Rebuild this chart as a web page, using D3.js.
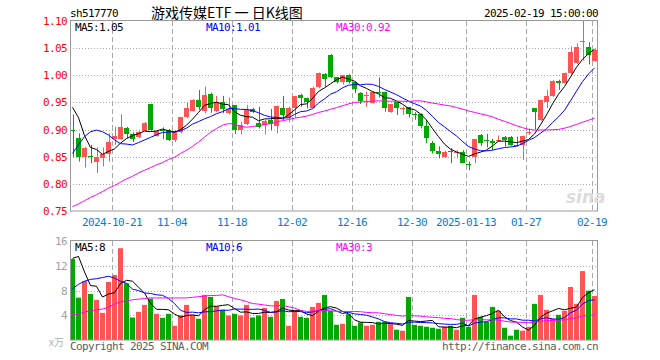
<!DOCTYPE html>
<html><head><meta charset="utf-8">
<script src="https://cdn.jsdelivr.net/npm/d3@7/dist/d3.min.js"></script>
<style>
html,body{margin:0;padding:0;background:#fff;}
svg{display:block;}
.mono{font-family:"DejaVu Sans Mono",monospace;font-size:11px;letter-spacing:-0.62px;}
</style></head>
<body>
<svg id="c" width="660" height="360"></svg>
<script>
// ---------- data ----------
const openP = [0.900,0.885,0.850,0.852,0.841,0.848,0.855,0.882,0.882,0.903,
0.891,0.887,0.898,0.947,0.889,0.900,0.899,0.881,0.896,0.923,
0.934,0.955,0.935,0.966,0.935,0.950,0.930,0.945,0.900,0.910,
0.938,0.913,0.909,0.918,0.907,0.940,0.921,0.940,0.964,0.959,
0.940,0.979,1.002,1.037,0.996,0.988,1.000,0.988,0.967,0.963,
0.949,0.969,0.969,0.933,0.950,0.939,0.941,0.929,0.928,0.907,
0.875,0.861,0.850,0.861,0.858,0.859,0.837,0.849,0.890,0.880,
0.879,0.880,0.887,0.887,0.872,0.871,0.895,0.939,0.917,0.951,
0.961,0.990,0.986,1.004,1.023,1.061,1.052,1.027];
const highP = [0.928,0.893,0.868,0.872,0.867,0.867,0.893,0.905,0.928,0.905,
0.895,0.897,0.914,0.947,0.899,0.904,0.901,0.899,0.923,0.950,
0.956,0.973,0.979,0.968,0.962,0.962,0.959,0.945,0.914,0.945,
0.940,0.942,0.918,0.938,0.944,0.962,0.942,0.962,0.966,0.959,
0.979,1.005,1.004,1.039,0.997,1.000,1.002,0.989,0.969,0.970,
0.971,0.996,0.970,0.947,0.951,0.942,0.942,0.932,0.930,0.918,
0.879,0.869,0.861,0.866,0.862,0.862,0.841,0.883,0.892,0.892,
0.883,0.889,0.888,0.888,0.887,0.889,0.902,0.939,0.955,0.973,
0.991,0.992,1.005,1.053,1.059,1.100,1.061,1.048];
const lowP = [0.849,0.841,0.830,0.838,0.820,0.832,0.841,0.872,0.881,0.884,
0.877,0.884,0.896,0.898,0.887,0.882,0.879,0.877,0.893,0.921,
0.933,0.936,0.930,0.931,0.932,0.930,0.928,0.892,0.891,0.908,
0.930,0.902,0.891,0.899,0.893,0.916,0.913,0.922,0.942,0.939,
0.939,0.976,0.979,0.995,0.985,0.983,0.985,0.967,0.947,0.942,
0.948,0.959,0.933,0.931,0.927,0.927,0.922,0.918,0.902,0.875,
0.856,0.847,0.848,0.838,0.847,0.838,0.825,0.838,0.870,0.867,
0.862,0.877,0.869,0.870,0.869,0.844,0.890,0.900,0.916,0.940,
0.960,0.973,0.985,1.002,1.021,1.027,1.020,1.025];
const closeP = [0.899,0.850,0.866,0.851,0.850,0.855,0.877,0.889,0.904,0.892,
0.882,0.895,0.913,0.899,0.898,0.899,0.881,0.898,0.923,0.939,
0.955,0.942,0.964,0.940,0.951,0.937,0.937,0.899,0.908,0.938,
0.932,0.904,0.916,0.910,0.943,0.927,0.940,0.961,0.959,0.950,
0.976,1.005,0.994,0.996,0.988,1.000,0.988,0.974,0.953,0.964,
0.970,0.968,0.939,0.947,0.940,0.940,0.929,0.928,0.907,0.884,
0.861,0.855,0.859,0.860,0.859,0.839,0.836,0.882,0.876,0.879,
0.876,0.881,0.881,0.871,0.871,0.889,0.896,0.933,0.955,0.962,
0.990,0.985,1.004,1.043,1.052,1.063,1.037,1.046];
const volume = [13.1,6.85,9.53,7.44,6.48,4.39,9.37,10.5,14.83,9.16,
3.64,4.55,5.68,6.69,4.23,3.59,4.23,2.30,4.02,5.68,
4.07,3.43,7.28,6.96,5.46,4.87,3.96,4.23,3.96,5.68,
3.64,3.96,5.19,3.75,6.32,6.64,2.30,4.71,3.75,3.59,
5.35,6.0,7.28,4.71,2.46,2.62,4.18,2.30,2.84,2.30,
2.46,2.95,2.95,2.73,1.66,1.50,6.96,2.46,2.30,2.14,
1.98,1.82,2.14,2.30,1.66,3.59,2.14,7.28,3.75,2.95,
5.35,4.71,1.98,0.70,1.66,1.50,2.14,5.84,7.28,4.87,
3.43,4.07,4.71,8.57,5.84,11.14,7.98,7.12];
const ma5Lead  = [0.941,0.922,0.889,0.867];
const ma10Lead = [0.856,0.872,0.887,0.896,0.899,0.896,0.890,0.881,0.874];
const ma30Lead = [0.758,0.763,0.769,0.775,0.780,0.786,0.792,0.797,0.803,0.809,
0.814,0.820,0.825,0.830,0.835,0.839,0.845,0.849,0.856,0.862,
0.869,0.877,0.886,0.895,0.902,0.908,0.911,0.910,0.906];
const vma5Lead  = [13.2,13.5,11.0,8.8];
const vma10Lead = [8.3,9.0,9.5,9.8,9.9,10.1,10.3,10.0,9.5];
const vma30Lead = [4.07,4.2,4.5,4.7,4.9,5.0,5.3,5.8,6.2,6.3,
6.5,6.6,6.7,6.8,6.8,6.8,6.8,6.8,6.8,6.8,
6.9,7.0,7.1,7.2,7.2,7.3,7.0,6.7,6.5];
const tickIdx    = [7,17,27,37,47,57,66,76,87];
const tickLabels = ["2024-10-21","11-04","11-18","12-02","12-16","12-30","2025-01-13","01-27","02-19"];
const priceTicks = [1.10,1.05,1.00,0.95,0.90,0.85,0.80,0.75];
const volTicks   = [16,12,8,4];
const priceLegend = ["MA5:1.05","MA10:1.01","MA30:0.92"];
const volLegend   = ["MA5:8","MA10:6","MA30:3"];

// ---------- helpers ----------
function sma(arr, n, lead){
  return arr.map((v,i)=> i < n-1 ? lead[i] : d3.mean(arr.slice(i-n+1,i+1)));
}
const N = closeP.length;
const RED="#ff5454", GREEN="#00a800", GRID="#a8a8a8";

const svg = d3.select("#c");
const xs = d3.scaleLinear().domain([0,88]).range([70,598]);
const cx = i => xs(i)+2.5;
const yP = d3.scaleLinear().domain([0.75,1.10]).range([211,21]);
const yV = d3.scaleLinear().domain([0,16]).range([340,241]);

// ---------- grids ----------
function panel(y0,y1,hTicks,yScale){
  const g = svg.append("g");
  g.selectAll("line.h").data(hTicks).enter().append("line")
    .attr("x1",70).attr("x2",598)
    .attr("y1",d=>Math.round(yScale(d))+0.5).attr("y2",d=>Math.round(yScale(d))+0.5)
    .attr("stroke",GRID).attr("stroke-dasharray","1,2");
  g.selectAll("line.v").data(tickIdx).enter().append("line")
    .attr("x1",d=>Math.round(xs(d))+0.5).attr("x2",d=>Math.round(xs(d))+0.5)
    .attr("y1",y0).attr("y2",y1)
    .attr("stroke",GRID).attr("stroke-dasharray","5,3");
  return g;
}
panel(21,211,[1.05,1.00,0.95,0.90,0.85,0.80],yP);
panel(241,340,[12,8,4],yV);

// ---------- candles ----------
const cg = svg.append("g");
d3.range(N).forEach(i=>{
  const up = closeP[i] >= openP[i];
  const col = up ? RED : GREEN;
  const x = Math.round(cx(i));
  cg.append("line").attr("x1",x+0.5).attr("x2",x+0.5)
    .attr("y1",yP(highP[i])).attr("y2",yP(lowP[i])).attr("stroke",col);
  const top = Math.round(yP(Math.max(openP[i],closeP[i])));
  const bot = Math.round(yP(Math.min(openP[i],closeP[i])));
  cg.append("rect").attr("x",Math.round(xs(i))).attr("y",top)
    .attr("width",5).attr("height",Math.max(1,bot-top)).attr("fill",col);
});

// ---------- volume bars ----------
const vg = svg.append("g");
vg.selectAll("rect").data(volume).enter().append("rect")
  .attr("x",(d,i)=>Math.round(xs(i))).attr("width",5)
  .attr("y",d=>yV(d)).attr("height",d=>yV(0)-yV(d))
  .attr("fill",(d,i)=> closeP[i] >= openP[i] ? RED : GREEN);

// ---------- MA lines ----------
const pClip = svg.append("clipPath").attr("id","pc").append("rect").attr("x",70).attr("y",21).attr("width",528).attr("height",190);
const vClip = svg.append("clipPath").attr("id","vc").append("rect").attr("x",70).attr("y",241).attr("width",528).attr("height",99);
function drawLine(vals, yScale, color, clip){
  const line = d3.line().x((d,i)=>cx(i)).y(d=>yScale(d));
  svg.append("path").attr("d",line(vals)).attr("fill","none")
    .attr("stroke",color).attr("stroke-width",1).attr("clip-path","url(#"+clip+")");
}
drawLine(sma(closeP,5,ma5Lead),  yP,"#000000","pc");
drawLine(sma(closeP,10,ma10Lead),yP,"#0000ff","pc");
drawLine(sma(closeP,30,ma30Lead),yP,"#ff00ff","pc");
drawLine(sma(volume,5,vma5Lead),  yV,"#000000","vc");
drawLine(sma(volume,10,vma10Lead),yV,"#0000ff","vc");
drawLine(sma(volume,30,vma30Lead),yV,"#ff00ff","vc");

// ---------- borders ----------
svg.append("rect").attr("x",70.5).attr("y",20.5).attr("width",527).attr("height",190.5)
  .attr("fill","none").attr("stroke","#999");
svg.append("rect").attr("x",70.5).attr("y",240.5).attr("width",527).attr("height",99.5)
  .attr("fill","none").attr("stroke","#999");

// ---------- axis labels ----------
svg.selectAll("text.pt").data(priceTicks).enter().append("text").attr("class","mono")
  .attr("x",67).attr("y",d=>yP(d)+4).attr("text-anchor","end").attr("fill","#ff0000")
  .text(d=>d.toFixed(2));
svg.selectAll("text.vt").data(volTicks).enter().append("text").attr("class","mono")
  .attr("x",67).attr("y",d=>yV(d)+4).attr("text-anchor","end").attr("fill","#a0a0a0")
  .text(d=>d);
svg.append("text").attr("x",64).attr("y",346).attr("text-anchor","end")
  .attr("fill","#b0b0b0").style("font-family","Noto Sans CJK SC").style("font-size","10px").text("x万");
svg.selectAll("text.xt").data(tickIdx).enter().append("text").attr("class","mono")
  .attr("x",d=>xs(d)).attr("y",226).attr("text-anchor","middle").attr("fill","#0a7bd0")
  .text((d,i)=>tickLabels[i]);

// ---------- header ----------
svg.append("text").attr("class","mono").attr("x",70).attr("y",17).attr("fill","#000").text("sh517770");
svg.append("text").attr("x",151).attr("y",18).attr("fill","#000")
  .style("font-family","Noto Sans CJK SC").style("font-size","14px").text("游戏传媒ETF 一 日K线图");
svg.append("text").attr("class","mono").attr("x",598).attr("y",17).attr("text-anchor","end").attr("fill","#000").text("2025-02-19 15:00:00");

// ---------- legends ----------
const legX = [75,206,336], legC = ["#000000","#0000ff","#ff00ff"];
priceLegend.forEach((t,i)=> svg.append("text").attr("class","mono").attr("x",legX[i]).attr("y",31).attr("fill",legC[i]).text(t));
volLegend.forEach((t,i)=> svg.append("text").attr("class","mono").attr("x",legX[i]).attr("y",251).attr("fill",legC[i]).text(t));

// ---------- footer ----------
svg.append("text").attr("class","mono").attr("x",70).attr("y",350).attr("fill","#606060").text("Copyright 2025 SINA.COM");
svg.append("text").attr("class","mono").attr("x",598).attr("y",350).attr("text-anchor","end").attr("fill","#606060").text("http://finance.sina.com.cn");

// watermark
svg.append("text").attr("x",566).attr("y",203).attr("fill","#dcdcdc")
  .style("font-family","DejaVu Sans").style("font-size","17px").style("font-weight","bold").style("font-style","italic").text("sina");
</script>
</body></html>
